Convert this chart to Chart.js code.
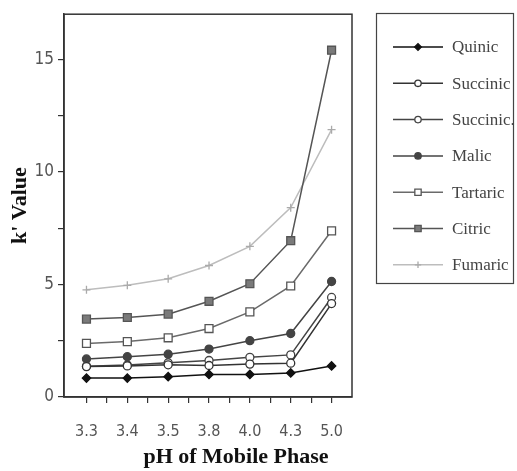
<!DOCTYPE html>
<html>
<head>
<meta charset="utf-8">
<script src="https://cdn.jsdelivr.net/npm/chart.js@4"></script>
<style>
  html, body { margin: 0; padding: 0; background: #fff; }
  #wrap { width: 517px; height: 471px; }
</style>
</head>
<body>
<div id="wrap"><canvas id="chart" width="517" height="471"></canvas></div>
<script>
const phLabels = ['3.3', '3.4', '3.5', '3.8', '4.0', '4.3', '5.0'];

const quinic    = [0.84, 0.84, 0.90, 1.00, 1.00, 1.07, 1.38];
const succinic1 = [1.35, 1.38, 1.43, 1.40, 1.46, 1.50, 4.15];
const succinic2 = [1.37, 1.42, 1.52, 1.62, 1.76, 1.87, 4.42];
const malic     = [1.69, 1.79, 1.90, 2.13, 2.50, 2.82, 5.13];
const tartaric  = [2.38, 2.46, 2.63, 3.04, 3.78, 4.93, 7.38];
const citric    = [3.46, 3.53, 3.68, 4.25, 5.03, 6.94, 15.4];
const fumaric   = [4.76, 4.96, 5.25, 5.84, 6.69, 8.41, 11.87];

const yTicks = [0, 2.5, 5, 7.5, 10, 12.5, 15];
const xTicks = [0, 0.5, 1, 1.5, 2, 2.5, 3, 3.5, 4, 4.5, 5, 5.5, 6];

const toPoints = arr => arr.map((v, i) => ({ x: i, y: v }));

function series(label, values, line, style, fill, border, radius) {
    return {
        label: label,
        data: toPoints(values),
        borderColor: line,
        borderWidth: 1.5,
        pointStyle: style,
        pointRadius: radius,
        pointBackgroundColor: fill,
        pointBorderColor: border,
        pointBorderWidth: 1.3,
        tension: 0,
    };
}

const datasets = [
    series('Quinic', quinic, '#111', 'rectRot', '#111', '#111', 4.2),
    series('Succinic', succinic1, '#333', 'circle', '#fff', '#333', 4),
    series('Succinic.', succinic2, '#444', 'circle', '#fff', '#444', 4),
    series('Malic', malic, '#444', 'circle', '#444', '#444', 4),
    series('Tartaric', tartaric, '#6a6a6a', 'rect', '#fff', '#555', 5.6),
    series('Citric', citric, '#555', 'rect', '#7a7a7a', '#555', 5.6),
    series('Fumaric', fumaric, '#bdbdbd', 'cross', '#bdbdbd', '#aaa', 4),
];

// box round the plot and hand drawn legend and x title
const extras = {
    id: 'extras',
    afterDraw(chart) {
        const ctx = chart.ctx;
        const a = chart.chartArea;
        ctx.save();
        ctx.strokeStyle = '#333';
        ctx.lineWidth = 1.5;
        ctx.strokeRect(a.left, a.top, a.right - a.left, a.bottom - a.top);

        // legend
        ctx.lineWidth = 1.2;
        ctx.strokeStyle = '#444';
        ctx.strokeRect(376.5, 13.5, 137, 270);
        chart.data.datasets.forEach((ds, i) => {
            const y = 47 + i * 36.3;
            ctx.strokeStyle = ds.borderColor;
            ctx.lineWidth = 1.5;
            ctx.beginPath();
            ctx.moveTo(393, y);
            ctx.lineTo(443, y);
            ctx.stroke();
            ctx.fillStyle = ds.pointBackgroundColor;
            ctx.strokeStyle = ds.pointBorderColor;
            ctx.lineWidth = ds.pointBorderWidth;
            Chart.helpers.drawPoint(ctx, {
                pointStyle: ds.pointStyle,
                radius: ds.pointRadius * 0.8,
                borderWidth: ds.pointBorderWidth,
                rotation: 0,
            }, 418, y);
            ctx.fillStyle = '#444';
            ctx.font = '17px "Liberation Serif", serif';
            ctx.textBaseline = 'middle';
            ctx.textAlign = 'left';
            ctx.fillText(ds.label, 452, y + 1);
        });

        ctx.fillStyle = '#111';
        ctx.font = 'bold 22px "Liberation Serif", serif';
        ctx.textAlign = 'center';
        ctx.textBaseline = 'middle';
        ctx.fillText('pH of Mobile Phase', 236, 457);
        ctx.restore();
    },
};

const config = {
    type: 'line',
    data: { datasets: datasets },
    plugins: [extras],
    options: {
        responsive: false,
        animation: false,
        layout: { padding: { top: 13, right: 165, left: 0, bottom: 0 } },
        plugins: {
            legend: { display: false },
            tooltip: { enabled: false },
        },
        scales: {
            x: {
                type: 'linear',
                min: -0.55,
                max: 6.5,
                afterBuildTicks: s => { s.ticks = xTicks.map(v => ({ value: v })); },
                afterFit: s => { s.height = 74; },
                grid: {
                    drawOnChartArea: false,
                    tickLength: 6,
                    color: '#333',
                    lineWidth: 1.2,
                },
                border: { display: true, color: '#333', width: 1.5 },
                ticks: {
                    autoSkip: false,
                    maxRotation: 0,
                    padding: 19,
                    color: '#555',
                    font: { family: '"Liberation Sans Narrow", "DejaVu Sans Condensed", sans-serif', size: 16 },
                    callback: v => Number.isInteger(v) ? phLabels[v] : '',
                },
            },
            y: {
                min: 0,
                max: 17,
                afterBuildTicks: s => { s.ticks = yTicks.map(v => ({ value: v })); },
                afterFit: s => { s.width = 64; },
                grid: {
                    drawOnChartArea: false,
                    tickLength: 6,
                    color: '#333',
                    lineWidth: 1.2,
                },
                border: { display: true, color: '#333', width: 1.5 },
                ticks: {
                    padding: 4,
                    color: '#555',
                    font: { family: '"Liberation Sans Narrow", "DejaVu Sans Condensed", sans-serif', size: 17 },
                    callback: v => v % 5 === 0 ? String(v) : '',
                },
                title: {
                    display: true,
                    text: "k' Value",
                    color: '#111',
                    padding: { top: 7, bottom: 0 },
                    font: { family: '"Liberation Serif", serif', size: 22, weight: 'bold' },
                },
            },
        },
    },
};

const element = document.getElementById('chart');
const chart = new Chart(element, config);
</script>
</body>
</html>
